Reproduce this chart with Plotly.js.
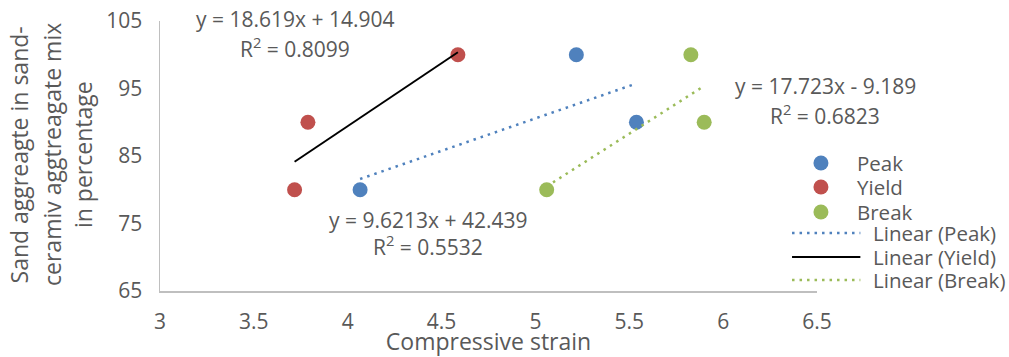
<!DOCTYPE html>
<html><head><meta charset="utf-8">
<script src="https://cdn.plot.ly/plotly-3.0.1.min.js"></script>
<style>html,body{margin:0;padding:0;background:#fff}#chart{width:1009px;height:357px}</style>
</head><body><div id="chart"></div>
<script>
const seriesNames = ["Peak", "Yield", "Break"];
const peakX = [4.066, 5.218, 5.538];
const peakY = [80, 100, 90];
const yieldX = [3.717, 3.788, 4.587];
const yieldY = [80, 90, 100];
const breakX = [5.06, 5.828, 5.899];
const breakY = [80, 100, 90];
const colors = ["#4F81BD", "#C0504D", "#9BBB59"];
const equations = ["y = 9.6213x + 42.439", "y = 18.619x + 14.904", "y = 17.723x - 9.189"];
const rSquared = ["0.5532", "0.8099", "0.6823"];
const xTicks = [3, 3.5, 4, 4.5, 5, 5.5, 6, 6.5];
const yTicks = [65, 75, 85, 95, 105];
const yTitleLines = ["Sand aggreagte in sand-", "ceramiv aggtreagate mix", "in percentage"];
const xTitle = "Compressive strain";

const FONT = "Open Sans, sans-serif";
const GREY = "#595959";

function fit(xs, ys) {
  const n = xs.length;
  const mx = xs.reduce((a, b) => a + b, 0) / n;
  const my = ys.reduce((a, b) => a + b, 0) / n;
  let sxy = 0, sxx = 0;
  for (let i = 0; i < n; i++) { sxy += (xs[i] - mx) * (ys[i] - my); sxx += (xs[i] - mx) ** 2; }
  const m = sxy / sxx, b = my - m * mx;
  const x0 = Math.min(...xs), x1 = Math.max(...xs);
  return {x: [x0, x1], y: [m * x0 + b, m * x1 + b]};
}

const data = [[peakX, peakY], [yieldX, yieldY], [breakX, breakY]];
const traces = [];
data.forEach((d, i) => {
  traces.push({type: "scatter", mode: "markers", x: d[0], y: d[1], name: seriesNames[i],
    marker: {color: colors[i], size: 15}, cliponaxis: false, showlegend: false});
});
const lineStyles = [
  {color: colors[0], width: 2.5, dash: "2.5px,5px"},
  {color: "#000000", width: 2, dash: "solid"},
  {color: colors[2], width: 2.5, dash: "2.5px,5px"}
];
data.forEach((d, i) => {
  const f = fit(d[0], d[1]);
  traces.push({type: "scatter", mode: "lines", x: f.x, y: f.y, name: "Linear (" + seriesNames[i] + ")",
    line: lineStyles[i], showlegend: false});
});

// equation label positions (paper coords): [x, y line1, y line2]
const eqPos = [[0.4077, 0.262, 0.168], [0.205, 1.006, 0.900], [1.0127, 0.758, 0.654]];
const annotations = [];
const eqFont = {family: FONT, size: 21, color: GREY};
eqPos.forEach((p, i) => {
  annotations.push({xref: "paper", yref: "paper", x: p[0], y: p[1], showarrow: false,
    text: equations[i], font: eqFont, xanchor: "center", yanchor: "middle"});
  annotations.push({xref: "paper", yref: "paper", x: p[0], y: p[2], showarrow: false,
    text: "R<sup>2</sup> = " + rSquared[i], font: eqFont, xanchor: "center", yanchor: "middle"});
});
const yTitleX = [-0.2149, -0.1654, -0.1181];
yTitleLines.forEach((t, i) => {
  annotations.push({xref: "paper", yref: "paper", x: yTitleX[i], y: 0.505, showarrow: false,
    text: t, textangle: -90, xanchor: "center", yanchor: "middle",
    font: {family: FONT, size: 23, color: GREY}});
});

// custom legend
const shapes = [];
const legFont = {family: FONT, size: 20.5, color: GREY};
const markerLegY = [0.474, 0.385, 0.2926];
markerLegY.forEach((y, i) => {
  shapes.push({type: "circle", xref: "paper", yref: "paper", xsizemode: "pixel", ysizemode: "pixel",
    xanchor: 1.006, yanchor: y, x0: -7.5, x1: 7.5, y0: -7.5, y1: 7.5,
    fillcolor: colors[i], line: {width: 0}});
  annotations.push({xref: "paper", yref: "paper", x: 1.058, y: y, showarrow: false,
    text: seriesNames[i], font: legFont, xanchor: "left", yanchor: "middle"});
});
const lineLegY = [0.2148, 0.126, 0.0407];
lineLegY.forEach((y, i) => {
  shapes.push({type: "line", xref: "paper", yref: "paper", x0: 0.962, x1: 1.066, y0: y, y1: y,
    line: lineStyles[i]});
  annotations.push({xref: "paper", yref: "paper", x: 1.082, y: y, showarrow: false,
    text: "Linear (" + seriesNames[i] + ")", font: legFont, xanchor: "left", yanchor: "middle"});
});

const layout = {
  width: 1009, height: 357,
  margin: {l: 160, r: 192, t: 21, b: 66},
  paper_bgcolor: "#ffffff", plot_bgcolor: "#ffffff",
  font: {family: FONT, color: GREY},
  showlegend: false,
  xaxis: {range: [3, 6.5], tickvals: xTicks, ticktext: xTicks.map(String),
    showgrid: false, zeroline: false, showline: true, linecolor: "#BFBFBF", linewidth: 1.5,
    ticks: "outside", ticklen: 11, tickcolor: "rgba(0,0,0,0)",
    tickfont: {family: FONT, size: 21, color: GREY},
    title: {text: xTitle, font: {family: FONT, size: 23, color: GREY}, standoff: 0}},
  yaxis: {range: [65, 105], tickvals: yTicks, ticktext: yTicks.map(String),
    showgrid: false, zeroline: false, showline: true, linecolor: "#BFBFBF", linewidth: 1.5,
    ticks: "outside", ticklen: 12, tickcolor: "rgba(0,0,0,0)",
    tickfont: {family: FONT, size: 21, color: GREY}},
  annotations: annotations,
  shapes: shapes
};
Plotly.newPlot("chart", traces, layout, {displayModeBar: false, staticPlot: true});
</script></body></html>
